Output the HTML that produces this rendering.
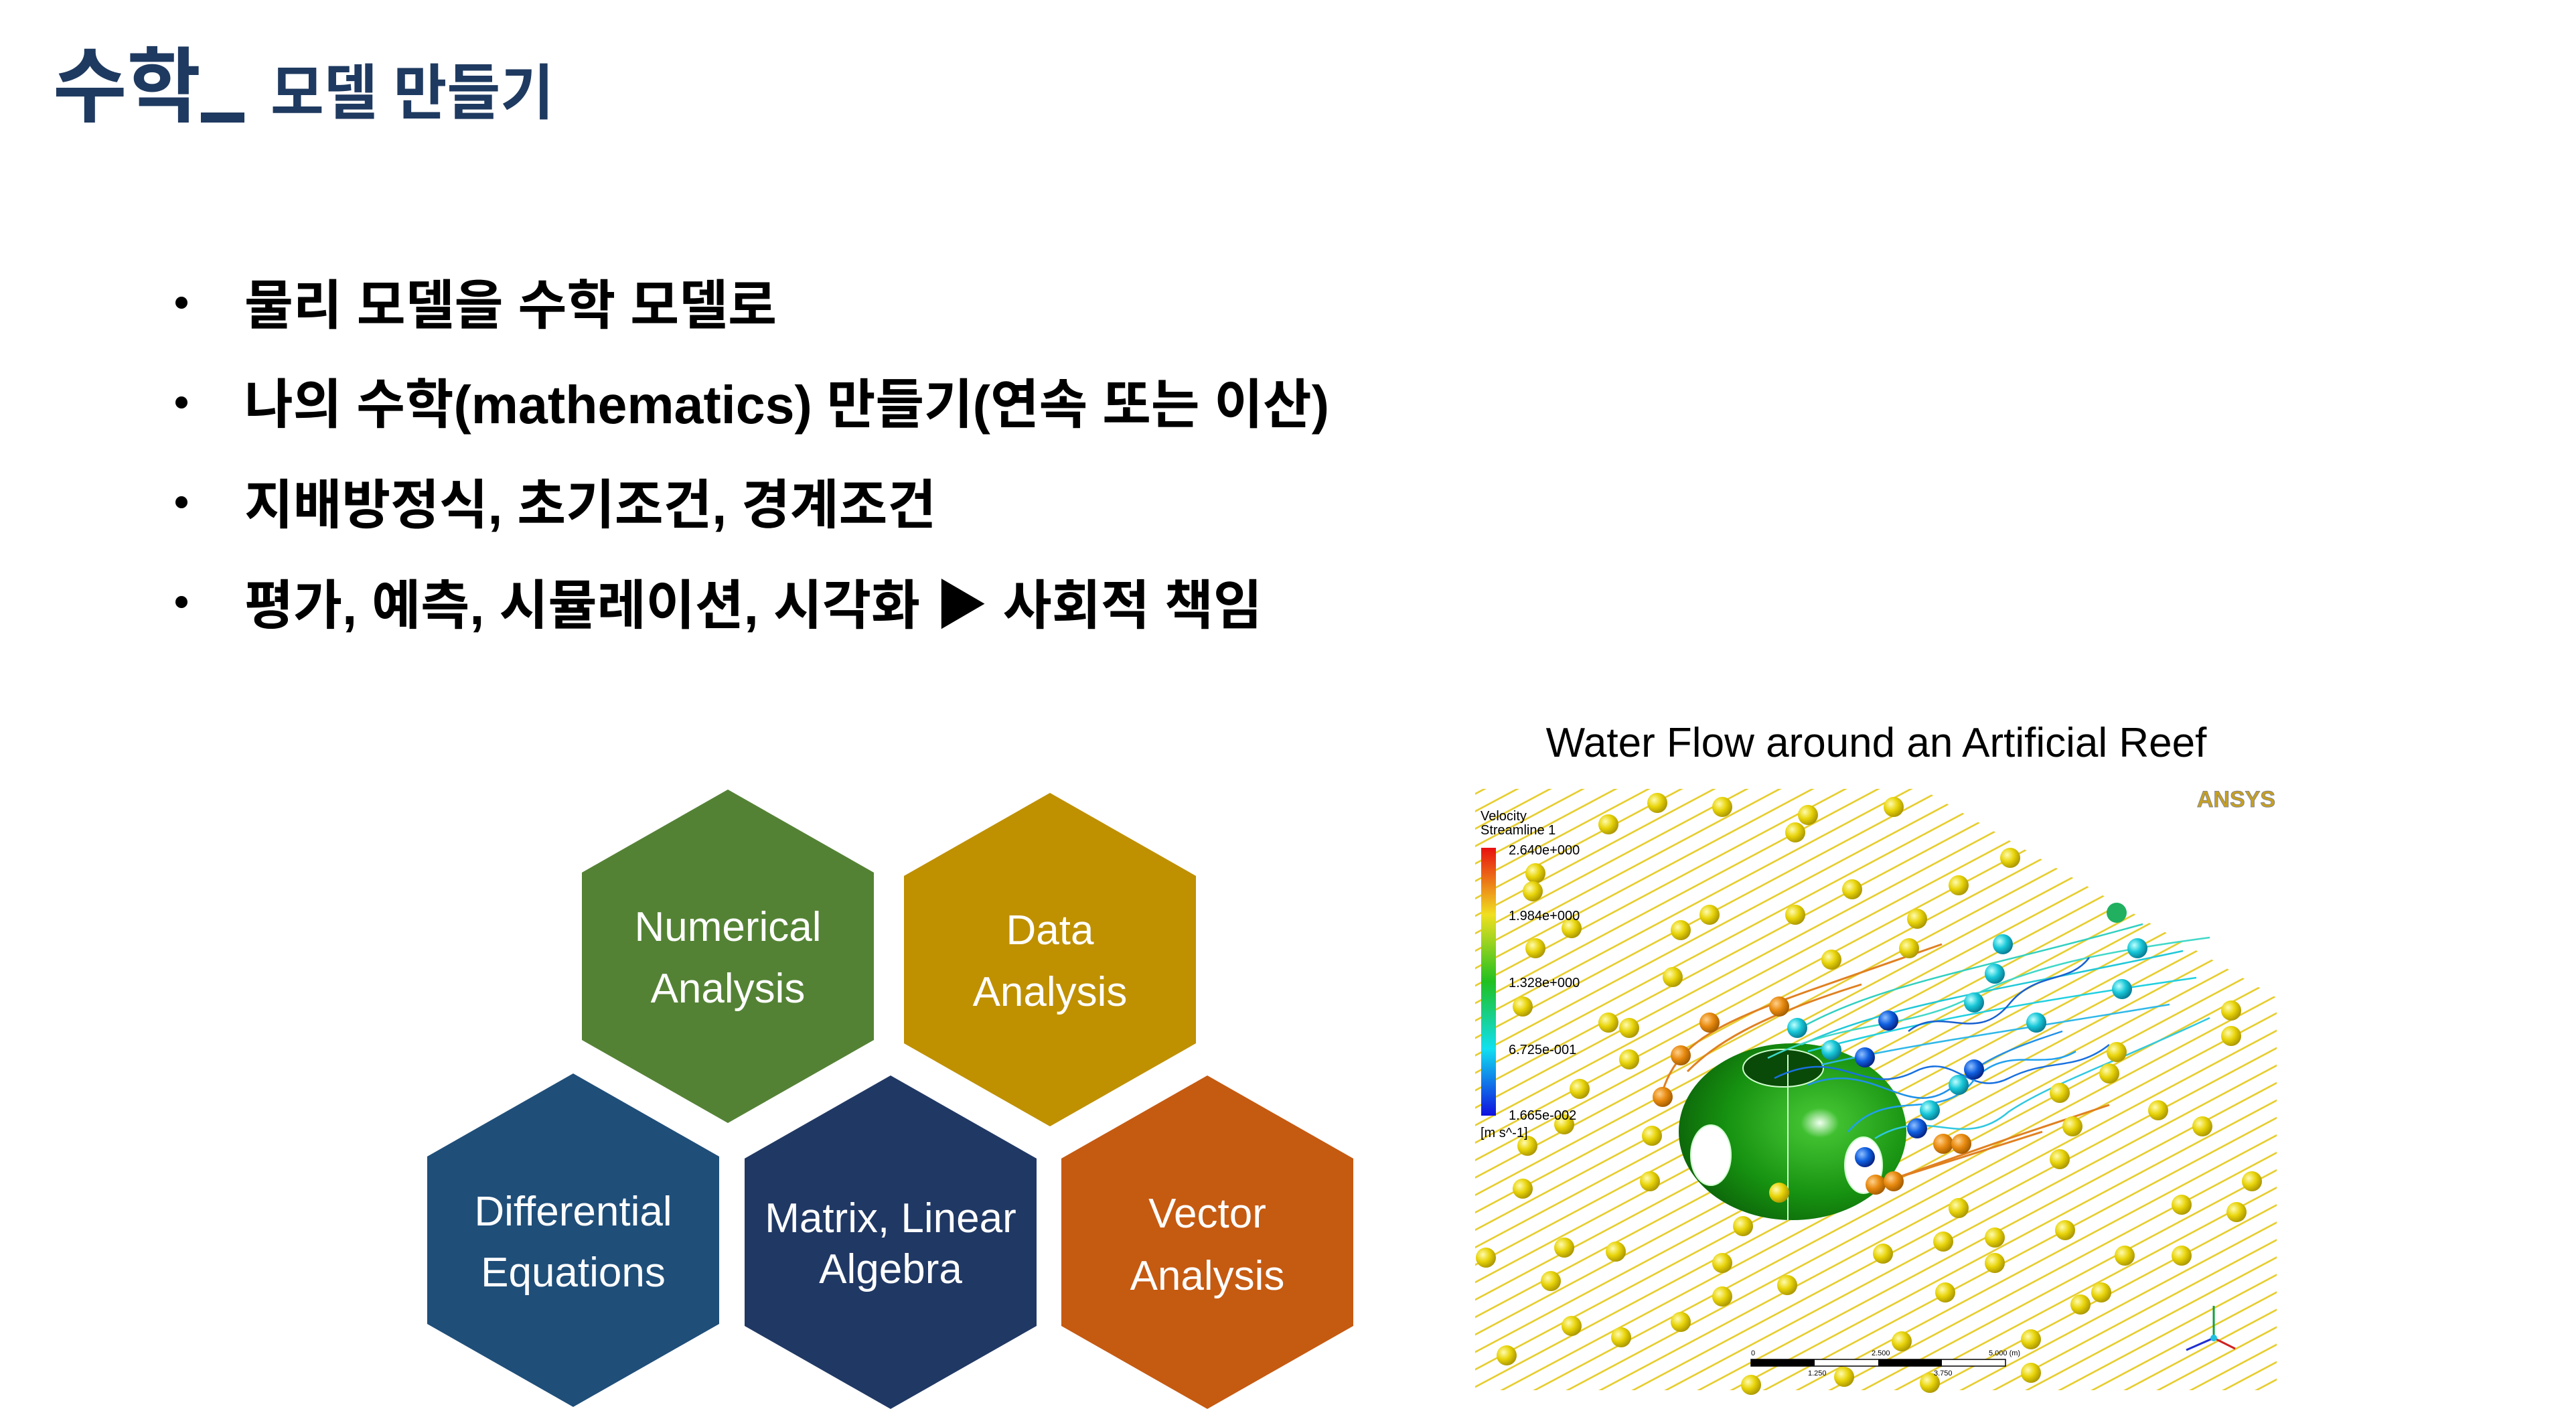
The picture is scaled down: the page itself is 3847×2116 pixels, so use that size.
<!DOCTYPE html>
<html><head><meta charset="utf-8"><style>
html,body{margin:0;padding:0;background:#fff;}
svg{display:block;}
</style></head><body>
<svg width="3847" height="2116" viewBox="0 0 3847 2116" xmlns="http://www.w3.org/2000/svg">
<defs>
<pattern id="stream" width="12" height="23" patternUnits="userSpaceOnUse" patternTransform="rotate(-28)">
<line x1="0" y1="11" x2="12" y2="11" stroke="#e6cc28" stroke-width="2.6"/>
</pattern>
<radialGradient id="yb" cx="0.35" cy="0.35" r="0.7"><stop offset="0" stop-color="#fffbb0"/><stop offset="0.5" stop-color="#e8d40a"/><stop offset="1" stop-color="#a89400"/></radialGradient>
<radialGradient id="ob" cx="0.35" cy="0.35" r="0.7"><stop offset="0" stop-color="#ffd08a"/><stop offset="0.5" stop-color="#e88a10"/><stop offset="1" stop-color="#a05a00"/></radialGradient>
<radialGradient id="cb" cx="0.35" cy="0.35" r="0.7"><stop offset="0" stop-color="#c0ffff"/><stop offset="0.5" stop-color="#18c8d8"/><stop offset="1" stop-color="#087890"/></radialGradient>
<radialGradient id="bb" cx="0.35" cy="0.35" r="0.7"><stop offset="0" stop-color="#90c0ff"/><stop offset="0.5" stop-color="#1060e0"/><stop offset="1" stop-color="#052080"/></radialGradient>
<radialGradient id="dome" cx="0.62" cy="0.45" r="0.7"><stop offset="0" stop-color="#f0fff0"/><stop offset="0.12" stop-color="#40c030"/><stop offset="0.6" stop-color="#169010"/><stop offset="1" stop-color="#0a5a08"/></radialGradient>
<linearGradient id="legend" x1="0" y1="0" x2="0" y2="1"><stop offset="0" stop-color="#e81010"/><stop offset="0.25" stop-color="#f0e020"/><stop offset="0.5" stop-color="#20c020"/><stop offset="0.75" stop-color="#10e0f0"/><stop offset="1" stop-color="#1010e0"/></linearGradient>
<clipPath id="imgclip"><polygon points="2203,1178 2870,1178 3400,1490 3400,2076 2203,2076"/></clipPath>
</defs>

<!-- Title -->
<text x="79" y="172" font-family="'Liberation Sans','Noto Sans CJK KR',sans-serif" font-weight="bold" font-size="122" fill="#1F3A60" textLength="221" lengthAdjust="spacingAndGlyphs">수학</text>
<rect x="300" y="168" width="65" height="15" fill="#1F3A60"/>
<text x="404" y="170" font-family="'Liberation Sans','Noto Sans CJK KR',sans-serif" font-weight="bold" font-size="90" fill="#1F3A60" textLength="423" lengthAdjust="spacingAndGlyphs">모델 만들기</text>

<!-- Bullets -->
<g font-family="'Liberation Sans','Noto Sans CJK KR',sans-serif" font-weight="bold" font-size="80" fill="#000">
<circle cx="271" cy="452" r="9"/><circle cx="271" cy="601" r="9"/><circle cx="271" cy="750" r="9"/><circle cx="271" cy="899" r="9"/>
<text x="365" y="484" textLength="795" lengthAdjust="spacingAndGlyphs">물리 모델을 수학 모델로</text>
<text x="365" y="632" textLength="1620" lengthAdjust="spacingAndGlyphs">나의 수학(mathematics) 만들기(연속 또는 이산)</text>
<text x="365" y="782" textLength="1033" lengthAdjust="spacingAndGlyphs">지배방정식, 초기조건, 경계조건</text>
<text x="365" y="932" textLength="1520" lengthAdjust="spacingAndGlyphs">평가, 예측, 시뮬레이션, 시각화 ▶ 사회적 책임</text>
</g>

<!-- Hexagons -->
<g font-family="'Liberation Sans',sans-serif" font-size="62" fill="#fff" text-anchor="middle">
<polygon points="1087,1179 1305,1303 1305,1553 1087,1677 869,1553 869,1303" fill="#548235"/>
<polygon points="1568,1184 1786,1308 1786,1558 1568,1682 1350,1558 1350,1308" fill="#BF9000"/>
<polygon points="856,1603 1074,1727 1074,1977 856,2101 638,1977 638,1727" fill="#1F4E79"/>
<polygon points="1330,1606 1548,1730 1548,1980 1330,2104 1112,1980 1112,1730" fill="#203864"/>
<polygon points="1803,1606 2021,1730 2021,1980 1803,2104 1585,1980 1585,1730" fill="#C55A11"/>
<text x="1087" y="1405">Numerical</text><text x="1087" y="1497">Analysis</text>
<text x="1568" y="1410">Data</text><text x="1568" y="1502">Analysis</text>
<text x="856" y="1830">Differential</text><text x="856" y="1921">Equations</text>
<text x="1330" y="1840">Matrix, Linear</text><text x="1330" y="1916">Algebra</text>
<text x="1803" y="1833">Vector</text><text x="1803" y="1926">Analysis</text>
</g>

<!-- Caption -->
<text x="2802" y="1130" font-family="'Liberation Sans',sans-serif" font-size="62" fill="#000" text-anchor="middle">Water Flow around an Artificial Reef</text>

<!-- Simulation image -->
<rect x="2203" y="1178" width="1197" height="898" fill="#fff"/>
<g clip-path="url(#imgclip)">
<rect x="2203" y="1178" width="1197" height="898" fill="url(#stream)"/>
</g>
<g fill="none" stroke="#e08020" stroke-width="3">
<path d="M2480,1640 C2500,1560 2560,1530 2700,1480 L2900,1410"/>
<path d="M2520,1600 C2560,1560 2620,1520 2780,1470"/>
<path d="M2800,1770 L3000,1700 L3150,1650"/>
<path d="M2830,1760 L3050,1690"/>
</g>
<ellipse cx="2677" cy="1690" rx="170" ry="132" fill="url(#dome)"/>
<ellipse cx="2663" cy="1595" rx="60" ry="28" fill="#0a4a08" stroke="#d0ffd0" stroke-width="2"/>
<ellipse cx="2555" cy="1725" rx="30" ry="45" fill="#fff" stroke="#d0ffd0" stroke-width="2"/>
<ellipse cx="2783" cy="1740" rx="28" ry="42" fill="#fff" stroke="#d0ffd0" stroke-width="2"/>
<line x1="2670" y1="1575" x2="2670" y2="1822" stroke="#d0ffd0" stroke-width="2"/>
<g fill="none" stroke-width="2.5">
<path d="M2680,1540 C2800,1470 2950,1450 3200,1380" stroke="#30d0c0"/>
<path d="M2690,1560 C2820,1500 2980,1480 3260,1420" stroke="#20c8d8"/>
<path d="M2700,1570 C2850,1530 3000,1500 3280,1460" stroke="#20d0e0"/>
<path d="M2720,1590 C2850,1560 3000,1540 3240,1500" stroke="#30b8e8"/>
<path d="M2650,1610 C2750,1560 2780,1640 2860,1600 C2920,1570 2940,1640 3000,1610 C3060,1580 3100,1600 3150,1560" stroke="#1870e0"/>
<path d="M2700,1620 C2800,1580 2850,1680 2920,1620 C2960,1580 3020,1560 3080,1540" stroke="#2090e8"/>
<path d="M2760,1690 C2820,1620 2900,1680 2950,1610 C3000,1560 3050,1600 3100,1570" stroke="#20a0f0"/>
<path d="M2800,1700 C2880,1650 2930,1720 3000,1660 C3060,1620 3150,1590 3300,1520" stroke="#30c8e0"/>
<path d="M2640,1580 C2760,1520 2860,1540 2960,1480 C3050,1440 3150,1420 3300,1400" stroke="#40d8c8"/>
<path d="M2850,1540 C2900,1500 2950,1560 3000,1500 C3040,1450 3090,1470 3120,1430" stroke="#1860d0"/>
</g>
<g fill="url(#yb)">
<circle cx="2475" cy="1199" r="15"/><circle cx="2572" cy="1205" r="15"/><circle cx="2402" cy="1231" r="15"/><circle cx="2700" cy="1217" r="15"/><circle cx="2828" cy="1205" r="15"/><circle cx="2681" cy="1243" r="15"/><circle cx="3002" cy="1281" r="15"/><circle cx="2293" cy="1304" r="15"/><circle cx="2289" cy="1331" r="15"/><circle cx="2766" cy="1328" r="15"/><circle cx="2925" cy="1322" r="15"/><circle cx="2553" cy="1366" r="15"/><circle cx="2681" cy="1366" r="15"/><circle cx="2863" cy="1372" r="15"/><circle cx="2347" cy="1386" r="15"/><circle cx="2510" cy="1389" r="15"/><circle cx="2293" cy="1416" r="15"/><circle cx="2851" cy="1416" r="15"/><circle cx="2735" cy="1433" r="15"/><circle cx="2498" cy="1459" r="15"/><circle cx="2274" cy="1503" r="15"/><circle cx="2402" cy="1527" r="15"/><circle cx="2433" cy="1535" r="15"/><circle cx="2433" cy="1582" r="15"/><circle cx="2359" cy="1626" r="15"/><circle cx="2336" cy="1679" r="15"/><circle cx="2467" cy="1696" r="15"/><circle cx="2281" cy="1711" r="15"/><circle cx="3332" cy="1509" r="15"/><circle cx="3332" cy="1547" r="15"/><circle cx="3161" cy="1571" r="15"/><circle cx="3150" cy="1603" r="15"/><circle cx="3076" cy="1632" r="15"/><circle cx="3223" cy="1658" r="15"/><circle cx="3095" cy="1682" r="15"/><circle cx="3289" cy="1682" r="15"/><circle cx="3076" cy="1731" r="15"/><circle cx="2274" cy="1775" r="15"/><circle cx="2464" cy="1764" r="15"/><circle cx="3363" cy="1764" r="15"/><circle cx="2657" cy="1781" r="15"/><circle cx="3258" cy="1799" r="15"/><circle cx="3340" cy="1810" r="15"/><circle cx="2925" cy="1804" r="15"/><circle cx="2603" cy="1831" r="15"/><circle cx="3084" cy="1837" r="15"/><circle cx="2336" cy="1863" r="15"/><circle cx="2413" cy="1869" r="15"/><circle cx="2219" cy="1878" r="15"/><circle cx="2572" cy="1886" r="15"/><circle cx="2812" cy="1872" r="15"/><circle cx="2902" cy="1854" r="15"/><circle cx="2979" cy="1848" r="15"/><circle cx="2979" cy="1886" r="15"/><circle cx="3173" cy="1875" r="15"/><circle cx="3258" cy="1875" r="15"/><circle cx="2316" cy="1913" r="15"/><circle cx="2669" cy="1919" r="15"/><circle cx="2572" cy="1936" r="15"/><circle cx="2905" cy="1930" r="15"/><circle cx="3138" cy="1930" r="15"/><circle cx="3107" cy="1948" r="15"/><circle cx="2347" cy="1980" r="15"/><circle cx="2510" cy="1974" r="15"/><circle cx="2421" cy="1997" r="15"/><circle cx="2840" cy="2003" r="15"/><circle cx="3033" cy="2000" r="15"/><circle cx="2250" cy="2024" r="15"/><circle cx="2615" cy="2068" r="15"/><circle cx="2754" cy="2056" r="15"/><circle cx="2882" cy="2065" r="15"/><circle cx="3033" cy="2050" r="15"/>
</g>
<g fill="url(#ob)">
<circle cx="2553" cy="1527" r="15"/><circle cx="2657" cy="1503" r="15"/><circle cx="2510" cy="1576" r="15"/><circle cx="2483" cy="1638" r="15"/><circle cx="2902" cy="1708" r="15"/><circle cx="2929" cy="1708" r="15"/><circle cx="2801" cy="1769" r="15"/><circle cx="2828" cy="1764" r="15"/>
</g>
<g fill="url(#cb)">
<circle cx="2991" cy="1410" r="15"/><circle cx="3161" cy="1363" r="15" fill="#20b060"/><circle cx="3192" cy="1416" r="15"/><circle cx="2979" cy="1454" r="15"/><circle cx="3169" cy="1477" r="15"/><circle cx="2948" cy="1497" r="15"/><circle cx="3041" cy="1527" r="15"/><circle cx="2684" cy="1535" r="15"/><circle cx="2735" cy="1568" r="15"/><circle cx="2925" cy="1620" r="15"/><circle cx="2882" cy="1658" r="15"/>
</g>
<g fill="url(#bb)">
<circle cx="2820" cy="1524" r="15"/><circle cx="2785" cy="1579" r="15"/><circle cx="2948" cy="1597" r="15"/><circle cx="2863" cy="1685" r="15"/><circle cx="2785" cy="1728" r="15"/>
</g>
<rect x="2212" y="1266" width="22" height="400" fill="url(#legend)"/>
<g font-family="'Liberation Sans',sans-serif" font-size="20" fill="#000">
<text x="2211" y="1225">Velocity</text><text x="2211" y="1246">Streamline 1</text>
<text x="2253" y="1276">2.640e+000</text><text x="2253" y="1374">1.984e+000</text><text x="2253" y="1474">1.328e+000</text><text x="2253" y="1574">6.725e-001</text><text x="2253" y="1672">1.665e-002</text><text x="2211" y="1698">[m s^-1]</text>
</g>
<text x="3398" y="1205" font-family="'Liberation Sans',sans-serif" font-weight="bold" font-size="34" fill="#c8a020" stroke="#888" stroke-width="1" text-anchor="end">ANSYS</text>
<rect x="2615" y="2030" width="380" height="10" fill="#fff" stroke="#000" stroke-width="1.5"/>
<rect x="2615" y="2030" width="95" height="10" fill="#000"/><rect x="2805" y="2030" width="95" height="10" fill="#000"/>
<g font-family="'Liberation Sans',sans-serif" font-size="11" fill="#000"><text x="2615" y="2024">0</text><text x="2795" y="2024">2.500</text><text x="2970" y="2024">5.000 (m)</text><text x="2700" y="2054">1.250</text><text x="2888" y="2054">3.750</text></g>
<g stroke-width="3"><line x1="3306" y1="1998" x2="3306" y2="1950" stroke="#10a040"/><line x1="3306" y1="1998" x2="3338" y2="2014" stroke="#d02020"/><line x1="3306" y1="1998" x2="3265" y2="2016" stroke="#2030d0"/></g>
<circle cx="3306" cy="1998" r="5" fill="#20c0e0"/>
</svg>
</body></html>
